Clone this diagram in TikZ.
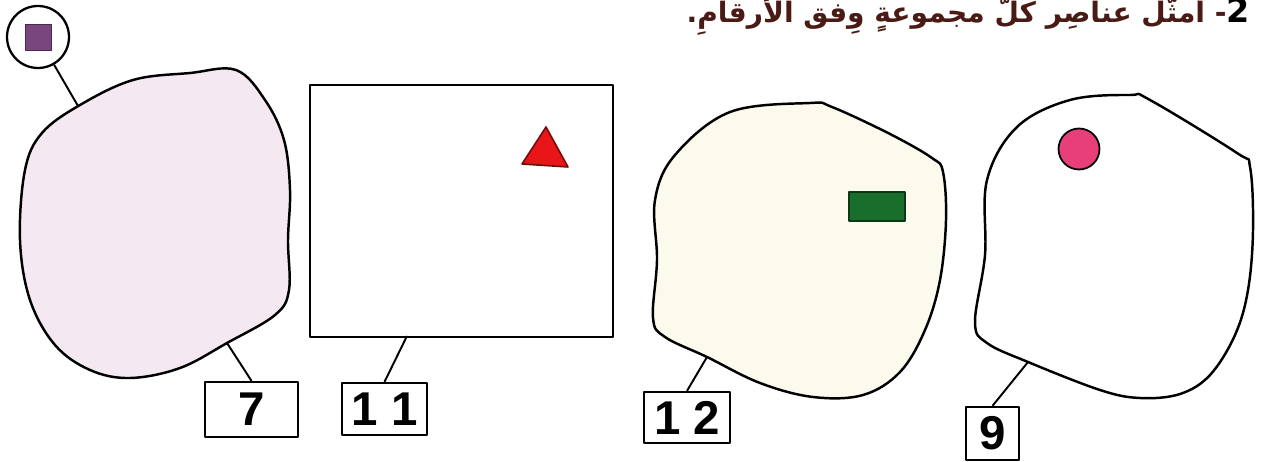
\documentclass[tikz,border=0pt]{standalone}
\usepackage{fontspec}
\setsansfont{Liberation Sans}
\newfontfamily\arabicfont[Script=Arabic]{DejaVu Sans}
\TeXXeTstate=1
\definecolor{colPink}{RGB}{245,233,241}
\definecolor{colCream}{RGB}{252,250,236}
\definecolor{colSq}{RGB}{122,70,126}
\definecolor{colTri}{RGB}{232,22,24}
\definecolor{colRect}{RGB}{26,110,44}
\definecolor{colDot}{RGB}{232,62,122}
\definecolor{colTitle}{RGB}{74,26,20}
\definecolor{colNum}{RGB}{170,20,30}

\begin{document}
\begin{tikzpicture}[x=0.02cm, y=-0.02cm, line join=round,
    blob/.style={draw=black, line width=1.4pt},
    lead/.style={draw=black, line width=1.1pt},
    numbox/.style={draw=black, line width=1.3pt, fill=white, inner sep=0pt,
                   font=\sffamily\bfseries\fontsize{27}{27}\selectfont}]

\useasboundingbox (0,0) rectangle (1263,462);
\clip (0,0) rectangle (1263,462);

% Titre
\node[anchor=base east, text=colTitle, font=\arabicfont\bfseries\fontsize{16}{16}\selectfont]
    (title) at (1256,23)
    {\beginR\textcolor{colNum}{\fontsize{19}{19}\selectfont 2}- أمثّل عناصِر كلّ مجموعةٍ وِفق الأرقامِ.\endR};

% Ensemble 1 : 7
\draw[blob, fill=colPink] plot[smooth cycle, tension=0.6] coordinates {
    (80,105) (133,80) (190,73) (236,70) (265,100) (284,140)
    (290,190) (288,240) (289,290) (275,315) (227,343) (180,368) (130,378)
    (90,370) (55,345) (30,300) (20,240) (25,170) (42,133)};
\coordinate (c0) at (78,106);
\coordinate (c7) at (227,343);
\node[draw=black, line width=1.3pt, circle, fill=white, minimum size=1.24cm] (tag) at (38,37) {};
\node[draw=colSq!60!black, fill=colSq, minimum size=0.52cm, inner sep=0pt] (sq) at (38,37) {};
\node[numbox, minimum width=1.86cm, minimum height=1.1cm] (box7) at (251.5,409.5) {7};
\draw[lead] (tag) -- (c0);
\draw[lead] (c7) -- (box7.north);

% Ensemble 2 : 11
\node[blob, fill=white, minimum width=6.06cm, minimum height=5.04cm] (frame) at (461.5,211) {};
\draw[draw=colTri!50!black, line width=0.9pt, fill=colTri] (546,127) -- (568,167) -- (522,164) -- cycle;
\coordinate (c11) at (407,336);
\node[numbox, minimum width=1.7cm, minimum height=1.04cm] (box11) at (384.5,409) {1 1};
\draw[lead] (c11) -- (box11.north);

% Ensemble 3 : 12
\draw[blob, fill=colCream] plot[smooth cycle, tension=0.6] coordinates {
    (730,112) (810,103) (832,107) (890,134) (932,158) (943,172) (946,220)
    (940,280) (925,330) (900,372) (863,395) (813,397) (760,383) (707,357)
    (665,337) (653,318) (657,260) (655,200) (675,155)};
\draw[draw=colRect!50!black, line width=0.9pt, fill=colRect] (849,192) rectangle (905,221);
\coordinate (c12) at (707,357);
\node[numbox, minimum width=1.72cm, minimum height=1.02cm] (box12) at (687,417.5) {1 2};
\draw[lead] (c12) -- (box12.north);

% Ensemble 4 : 9
\draw[blob, fill=white] plot[smooth cycle, tension=0.6] coordinates {
    (1017,127) (1070,100) (1130,95) (1150,100) (1237,153) (1250,167)
    (1253,230) (1248,290) (1235,335) (1210,375) (1180,394) (1140,398)
    (1100,390) (1028,362) (987,343) (975,322) (985,255) (987,180)};
\node[draw=black, line width=1pt, circle, fill=colDot, minimum size=0.82cm] (dot) at (1079,149) {};
\coordinate (c9) at (1028,362);
\node[numbox, minimum width=1.06cm, minimum height=1.06cm] (box9) at (992.5,433.5) {9};
\draw[lead] (c9) -- (box9.north);

\end{tikzpicture}
\end{document}
